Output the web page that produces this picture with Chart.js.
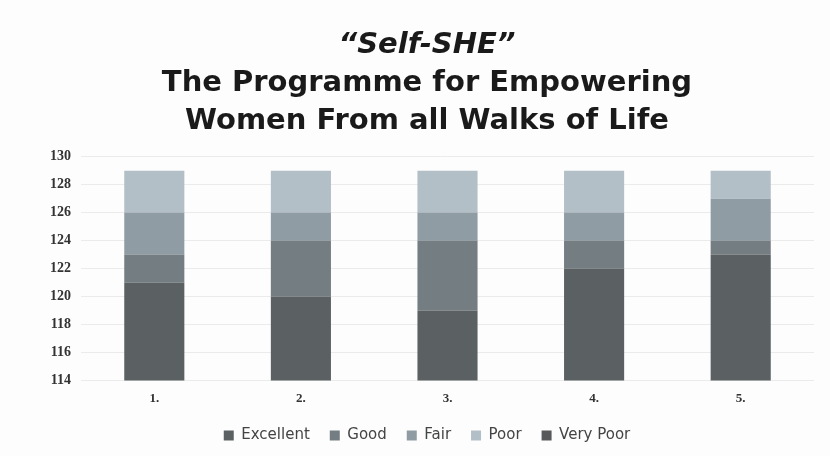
<!DOCTYPE html>
<html>
<head>
<meta charset="utf-8">
<script src="https://cdn.jsdelivr.net/npm/chart.js@4/dist/chart.umd.min.js"></script>
<style>
	html, body { margin: 0; padding: 0; background: #fdfdfd; }
	#wrap { width: 830px; height: 456px; }
</style>
</head>
<body>
<div id="wrap"><canvas id="chart"></canvas></div>
<script>
// data (stacks sum to 129)
var categories = ["1.", "2.", "3.", "4.", "5."];
var series_names = ["Excellent", "Good", "Fair", "Poor", "Very Poor"];
var excellent = [121, 120, 119, 122, 123];
var good = [2, 4, 5, 2, 1];
var fair = [3, 2, 2, 2, 3];
var poor = [3, 3, 3, 3, 2];
var very_poor = [0, 0, 0, 0, 0];
var y_ticks = [114, 116, 118, 120, 122, 124, 126, 128, 130];

var colors = ["#5b6162", "#737d82", "#8f9ca4", "#b2bfc6", "#58595b"];
var values = [excellent, good, fair, poor, very_poor];

var datasets = [];
for(var i=0; i<series_names.length; i++){
	datasets.push({
		label: series_names[i],
		data: values[i],
		backgroundColor: colors[i],
		borderWidth: 0,
		barPercentage: 0.82,
		categoryPercentage: 0.5
	});
}

var bg = {
	id: "bg",
	beforeDraw: function(chart){
		var ctx = chart.ctx;
		ctx.save();
		ctx.fillStyle = "#fdfdfd";
		ctx.fillRect(0, 0, chart.width, chart.height);
		ctx.restore();
	}
};

new Chart(document.getElementById("chart"), {
	type: "bar",
	data: { labels: categories, datasets: datasets },
	plugins: [bg],
	options: {
		responsive: true,
		maintainAspectRatio: false,
		animation: false,
		layout: { padding: { left: 40, right: 16, top: 27, bottom: 3 } },
		plugins: {
			title: {
				display: true,
				text: "\u201cSelf-SHE\u201d",
				color: "#1a1a1a",
				font: { family: "DejaVu Sans", size: 29, weight: "bold", style: "italic", lineHeight: 1.3 },
				padding: { top: 0, bottom: 0 }
			},
			subtitle: {
				display: true,
				text: ["The Programme for Empowering", "Women From all Walks of Life"],
				color: "#1a1a1a",
				font: { family: "DejaVu Sans", size: 29, weight: "bold", lineHeight: 1.31 },
				padding: { top: 0, bottom: 16 }
			},
			legend: {
				position: "bottom",
				labels: {
					boxWidth: 10, boxHeight: 10,
					color: "#444",
					font: { family: "DejaVu Sans", size: 15 },
					padding: 20
				}
			},
			tooltip: { enabled: false }
		},
		scales: {
			x: {
				stacked: true,
				grid: { display: false },
				border: { display: false },
				ticks: { color: "#333", padding: 2, font: { family: "Liberation Serif", size: 13, weight: "bold" } }
			},
			y: {
				stacked: true,
				min: 114,
				max: 130,
				afterBuildTicks: function(axis){
					axis.ticks = y_ticks.map(function(v){ return { value: v }; });
				},
				grid: { color: "#ebebeb", drawTicks: false },
				border: { display: false },
				ticks: { color: "#333", padding: 10, font: { family: "Liberation Serif", size: 14, weight: "bold" } }
			}
		}
	}
});
</script>
</body>
</html>
